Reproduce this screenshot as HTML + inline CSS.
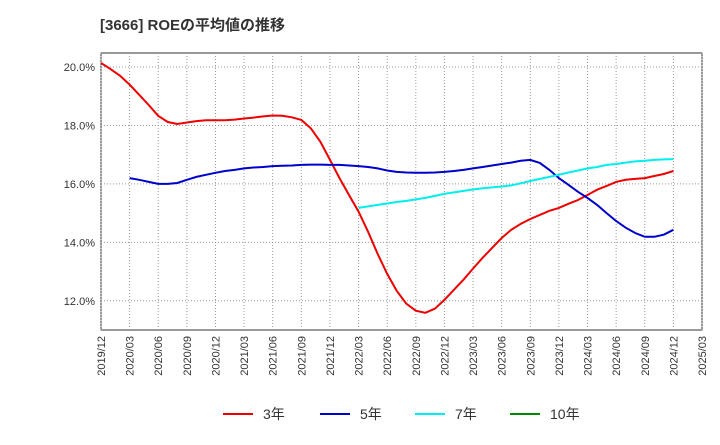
<!DOCTYPE html>
<html><head><meta charset="utf-8"><style>
body{margin:0;background:#fff;font-family:"Liberation Sans","Noto Sans CJK JP",sans-serif}
svg text{font-family:"Liberation Sans","Noto Sans CJK JP",sans-serif}
</style></head><body>
<svg id="chart" width="720" height="440" xmlns="http://www.w3.org/2000/svg">
<text x="100" y="30" font-size="15" font-weight="bold" fill="#333">[3666]  ROEの平均値の推移</text>
<rect x="101" y="53" width="601" height="277" fill="none" stroke="#333" stroke-width="1"/>
<g id="grid"></g><g id="series"></g><g id="axes"></g>
<g>
<g><line x1="223" y1="414" x2="253" y2="414" stroke="#e00" stroke-width="2"/><text x="263" y="419" font-size="14" fill="#333">3年</text></g>
<g><line x1="320" y1="414" x2="350" y2="414" stroke="#00c" stroke-width="2"/><text x="360" y="419" font-size="14" fill="#333">5年</text></g>
<g><line x1="415" y1="414" x2="445" y2="414" stroke="#0ee" stroke-width="2"/><text x="455" y="419" font-size="14" fill="#333">7年</text></g>
<g><line x1="510" y1="414" x2="540" y2="414" stroke="#080" stroke-width="2"/><text x="550" y="419" font-size="14" fill="#333">10年</text></g>
</g>
</svg>
<script>
const xTickLabels=["2019/12","2020/03","2020/06","2020/09","2020/12","2021/03","2021/06","2021/09","2021/12","2022/03","2022/06","2022/09","2022/12","2023/03","2023/06","2023/09","2023/12","2024/03","2024/06","2024/09","2024/12","2025/03"];
const yTicks=[12,14,16,18,20];
const roe3=[20.14,19.93,19.7,19.4,19.05,18.7,18.33,18.12,18.05,18.1,18.15,18.18,18.18,18.18,18.2,18.24,18.27,18.31,18.34,18.33,18.28,18.19,17.9,17.44,16.82,16.2,15.62,15.05,14.36,13.6,12.92,12.34,11.9,11.66,11.59,11.73,12.03,12.38,12.72,13.1,13.47,13.81,14.15,14.43,14.63,14.8,14.94,15.08,15.18,15.32,15.45,15.62,15.8,15.93,16.07,16.14,16.17,16.2,16.27,16.34,16.44];
const roe5=[16.2,16.14,16.07,16.0,16.0,16.03,16.14,16.24,16.31,16.38,16.44,16.48,16.53,16.56,16.58,16.61,16.62,16.63,16.65,16.66,16.66,16.65,16.65,16.63,16.61,16.58,16.53,16.46,16.41,16.39,16.38,16.38,16.39,16.41,16.44,16.48,16.53,16.58,16.63,16.68,16.73,16.79,16.82,16.72,16.48,16.2,15.97,15.73,15.52,15.28,15.0,14.73,14.5,14.32,14.19,14.19,14.26,14.43];
const roe7=[15.18,15.23,15.28,15.33,15.38,15.42,15.47,15.52,15.59,15.66,15.71,15.76,15.81,15.85,15.88,15.91,15.95,16.02,16.1,16.17,16.24,16.31,16.39,16.46,16.53,16.58,16.65,16.68,16.73,16.77,16.79,16.82,16.84,16.85];
const roe5Start=3, roe7Start=27; // month offsets from 2019/12
const NS="http://www.w3.org/2000/svg";
const X0=101,X1=702,Y0=53,Y1=330,vMin=11.0,vMax=20.48;
const xM=m=>X0+m*(X1-X0)/63;
const yV=v=>Y1-(v-vMin)/(vMax-vMin)*(Y1-Y0);
const grid=document.getElementById('grid'),axes=document.getElementById('axes'),ser=document.getElementById('series');
function mk(t,a,p){const e=document.createElementNS(NS,t);for(const k in a)e.setAttribute(k,a[k]);p.appendChild(e);return e;}
yTicks.forEach(v=>{
 const l=mk('line',{x1:X0,x2:X1,y1:yV(v),y2:yV(v),stroke:'#999','stroke-dasharray':'1,2'},grid);
 
 
 const t=mk('text',{x:X0-6,y:yV(v)+4,'text-anchor':'end','font-size':11,fill:'#333'},axes);
 t.textContent=v.toFixed(1)+'%';
 
 
});
xTickLabels.forEach((s,i)=>{
 const x=xM(i*3);
 const l=mk('line',{x1:x,x2:x,y1:Y0,y2:Y1,stroke:'#999','stroke-dasharray':'1,2'},grid);
 
 
 const t=mk('text',{x:x+4,y:Y1+6,'text-anchor':'end','font-size':11,fill:'#333',transform:`rotate(-90 ${x+4} ${Y1+6})`},axes);
 t.textContent=s;
 
 
});
function line(arr,start,color,name){
 const pts=arr.map((v,i)=>xM(start+i).toFixed(1)+','+yV(v).toFixed(1)).join(' ');
 const p=mk('polyline',{points:pts,fill:'none',stroke:color,'stroke-width':2},ser);
 
 
}
line(roe3,0,'#e00','line-3y');
line(roe5,roe5Start,'#00c','line-5y');
line(roe7,roe7Start,'#0ee','line-7y');
</script>
</body></html>
